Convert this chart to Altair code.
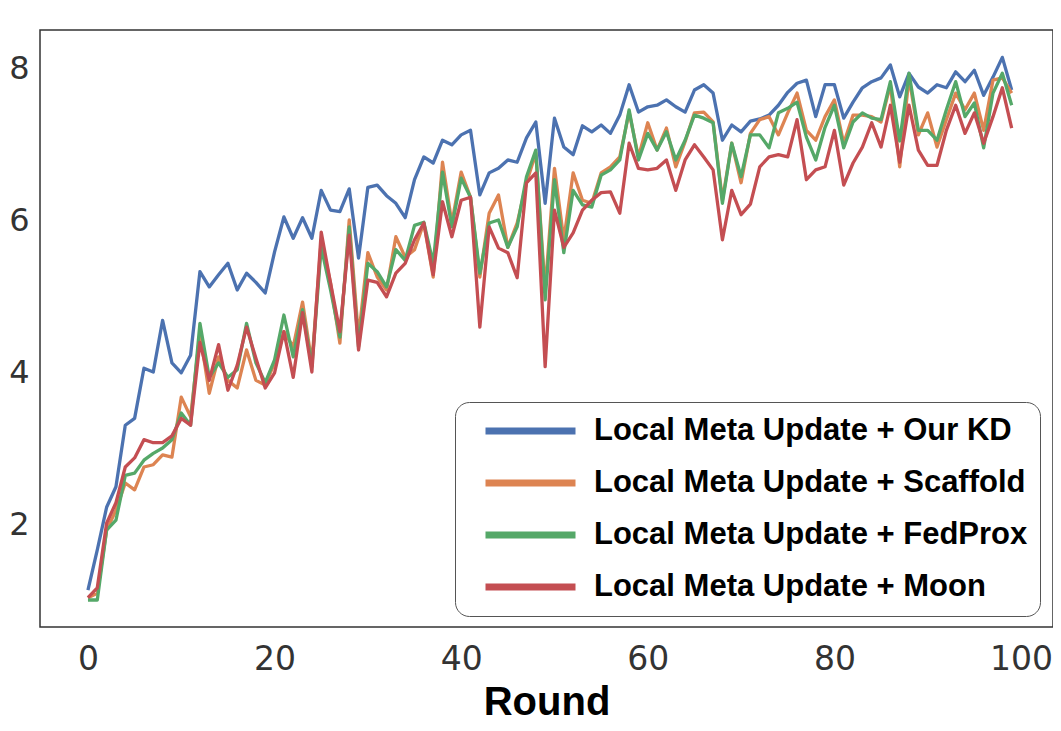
import altair as alt
import pandas as pd

rounds = list(range(100))

our_kd = [0.113, 0.166, 0.222, 0.249, 0.330, 0.339, 0.405, 0.400, 0.468, 0.412,
          0.399, 0.422, 0.532, 0.512, 0.528, 0.543, 0.508, 0.530, 0.518, 0.504,
          0.558, 0.604, 0.576, 0.603, 0.576, 0.639, 0.613, 0.611, 0.641, 0.550,
          0.643, 0.646, 0.632, 0.622, 0.603, 0.653, 0.683, 0.675, 0.705, 0.699,
          0.712, 0.718, 0.633, 0.662, 0.668, 0.679, 0.676, 0.708, 0.729, 0.622,
          0.734, 0.696, 0.686, 0.724, 0.716, 0.725, 0.714, 0.738, 0.778, 0.742,
          0.749, 0.751, 0.758, 0.749, 0.742, 0.771, 0.778, 0.767, 0.705, 0.725,
          0.716, 0.730, 0.733, 0.738, 0.751, 0.768, 0.780, 0.784, 0.736, 0.778,
          0.778, 0.734, 0.755, 0.774, 0.782, 0.787, 0.804, 0.762, 0.793, 0.775,
          0.767, 0.778, 0.774, 0.795, 0.782, 0.797, 0.764, 0.788, 0.814, 0.771]

scaffold = [0.103, 0.109, 0.192, 0.218, 0.254, 0.245, 0.275, 0.278, 0.291, 0.288,
            0.367, 0.341, 0.451, 0.372, 0.420, 0.389, 0.379, 0.429, 0.389, 0.383,
            0.412, 0.453, 0.433, 0.492, 0.412, 0.574, 0.517, 0.438, 0.600, 0.446,
            0.557, 0.525, 0.508, 0.578, 0.551, 0.561, 0.596, 0.525, 0.676, 0.596,
            0.663, 0.630, 0.525, 0.609, 0.633, 0.564, 0.596, 0.649, 0.688, 0.508,
            0.668, 0.574, 0.662, 0.626, 0.622, 0.662, 0.670, 0.683, 0.742, 0.683,
            0.728, 0.692, 0.721, 0.670, 0.703, 0.741, 0.742, 0.729, 0.626, 0.701,
            0.649, 0.714, 0.732, 0.736, 0.712, 0.741, 0.767, 0.718, 0.705, 0.736,
            0.758, 0.701, 0.738, 0.738, 0.736, 0.729, 0.778, 0.670, 0.788, 0.712,
            0.741, 0.696, 0.732, 0.767, 0.745, 0.767, 0.718, 0.784, 0.787, 0.767]

fedprox = [0.100, 0.100, 0.192, 0.205, 0.264, 0.267, 0.284, 0.293, 0.300, 0.311,
           0.346, 0.330, 0.464, 0.393, 0.412, 0.393, 0.403, 0.464, 0.412, 0.386,
           0.416, 0.475, 0.420, 0.482, 0.407, 0.564, 0.508, 0.446, 0.591, 0.433,
           0.543, 0.532, 0.512, 0.561, 0.547, 0.593, 0.597, 0.543, 0.663, 0.591,
           0.655, 0.630, 0.530, 0.596, 0.600, 0.564, 0.591, 0.657, 0.692, 0.495,
           0.653, 0.557, 0.639, 0.620, 0.617, 0.659, 0.666, 0.679, 0.745, 0.679,
           0.714, 0.692, 0.716, 0.679, 0.705, 0.738, 0.734, 0.728, 0.622, 0.701,
           0.657, 0.712, 0.712, 0.695, 0.741, 0.747, 0.755, 0.709, 0.679, 0.722,
           0.751, 0.695, 0.729, 0.741, 0.734, 0.732, 0.782, 0.704, 0.793, 0.718,
           0.718, 0.705, 0.745, 0.782, 0.736, 0.754, 0.695, 0.767, 0.793, 0.751]

moon = [0.103, 0.116, 0.201, 0.228, 0.275, 0.287, 0.311, 0.307, 0.307, 0.316,
        0.339, 0.330, 0.439, 0.389, 0.436, 0.376, 0.409, 0.459, 0.418, 0.379,
        0.399, 0.453, 0.393, 0.478, 0.400, 0.584, 0.517, 0.453, 0.580, 0.429,
        0.521, 0.518, 0.499, 0.530, 0.543, 0.574, 0.596, 0.528, 0.624, 0.578,
        0.626, 0.630, 0.459, 0.591, 0.563, 0.557, 0.524, 0.649, 0.662, 0.407,
        0.613, 0.564, 0.583, 0.613, 0.626, 0.636, 0.637, 0.609, 0.701, 0.668,
        0.666, 0.668, 0.679, 0.639, 0.679, 0.699, 0.683, 0.666, 0.574, 0.639,
        0.607, 0.621, 0.670, 0.683, 0.686, 0.683, 0.732, 0.653, 0.666, 0.670,
        0.718, 0.646, 0.675, 0.696, 0.728, 0.696, 0.751, 0.676, 0.751, 0.692,
        0.672, 0.672, 0.718, 0.751, 0.714, 0.741, 0.701, 0.736, 0.774, 0.721]

series_names = ["Local Meta Update + Our KD",
                "Local Meta Update + Scaffold",
                "Local Meta Update + FedProx",
                "Local Meta Update + Moon"]
series_colors = ["#4c72b0", "#dd8452", "#55a868", "#c44e52"]
x_ticks = [0, 20, 40, 60, 80, 100]
y_ticks = [0.2, 0.4, 0.6, 0.8]

rows = []
for name, vals in zip(series_names, [our_kd, scaffold, fedprox, moon]):
    for r, v in zip(rounds, vals):
        rows.append({"Round": r, "Accuracy": v, "Method": name})
df = pd.DataFrame(rows)

chart = alt.Chart(df).mark_line(strokeWidth=3.3, strokeJoin="round", clip=True).encode(
    x=alt.X("Round:Q",
            scale=alt.Scale(domain=[-5.14, 103.43], nice=False, zero=False),
            axis=alt.Axis(values=x_ticks, title="Round", format="d",
                          labelFontSize=33, labelPadding=16)),
    y=alt.Y("Accuracy:Q",
            scale=alt.Scale(domain=[0.0645, 0.85], nice=False, zero=False),
            axis=alt.Axis(values=y_ticks, title=None, labelFontSize=32,
                          labelPadding=11,
                          labelExpr="substring(format(datum.value, '.1f'), 2)")),
    color=alt.Color("Method:N",
                    scale=alt.Scale(domain=series_names, range=series_colors),
                    legend=alt.Legend(
                        title=None, orient="none", legendX=415, legendY=372,
                        symbolType="stroke", symbolSize=8100, symbolStrokeWidth=7,
                        symbolOffset=15, clipHeight=34, rowPadding=18,
                        labelFont="Liberation Sans", labelFontWeight="bold",
                        labelFontSize=31, labelColor="black", labelOffset=15,
                        labelLimit=1000, padding=12, strokeColor="#555555",
                        cornerRadius=14, fillColor="white",
                        labelExpr="datum.label + '     '")),
).properties(
    width=1013, height=597,
    autosize=alt.AutoSizeParams(type="none"),
    padding={"left": 32, "top": 22, "right": 0, "bottom": 96},
).configure_view(
    stroke="#333333", strokeWidth=1.5
).configure_axis(
    domain=False, ticks=False, grid=False,
    labelFont="DejaVu Sans", labelColor="#333333",
    titleFont="Liberation Sans", titleFontWeight="bold", titleFontSize=40,
    titleColor="black", titlePadding=6,
)

chart.save("out.html", embed_options={"renderer": "svg", "actions": False})
